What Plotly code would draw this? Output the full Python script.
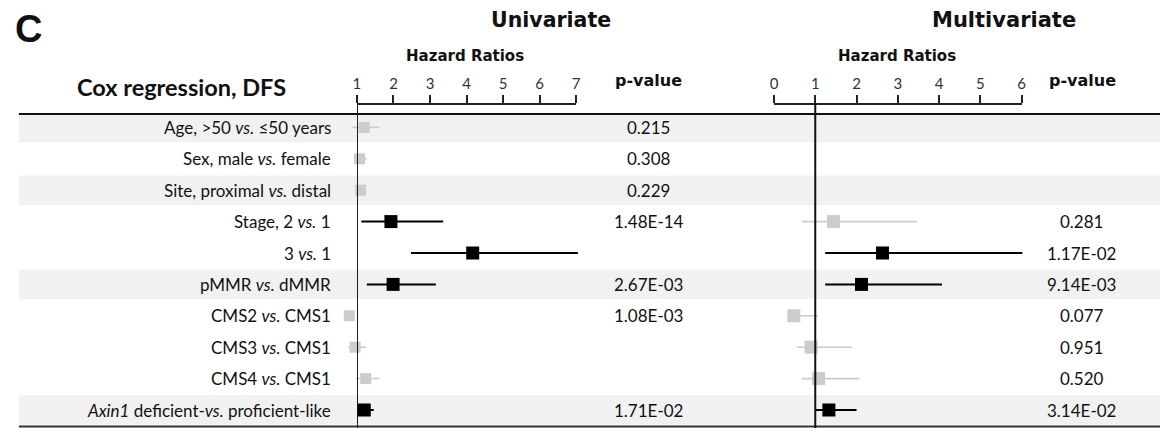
import plotly.graph_objects as go

W, H = 1165, 428

# ---------------- data ----------------
row_labels = [
    "Age, >50 <i>vs.</i> ≤50 years",
    "Sex, male <i>vs.</i> female",
    "Site, proximal <i>vs.</i> distal",
    "Stage, 2 <i>vs.</i> 1",
    "3 <i>vs.</i> 1",
    "pMMR <i>vs.</i> dMMR",
    "CMS2 <i>vs.</i> CMS1",
    "CMS3 <i>vs.</i> CMS1",
    "CMS4 <i>vs.</i> CMS1",
    "<i>Axin1</i> deficient-<i>vs.</i> proficient-like",
]
shaded_rows = [0, 2, 5, 9]

uni_hr = [1.20, 1.07, 1.10, 1.93, 4.17, 1.99, 0.79, 0.95, 1.24, 1.20]
uni_lo = [0.87, 0.92, 0.96, 1.12, 2.48, 1.27, 0.72, 0.76, 0.98, 1.00]
uni_hi = [1.61, 1.26, 1.25, 3.36, 7.05, 3.16, 0.86, 1.25, 1.61, 1.46]
uni_sig = [False, False, False, True, True, True, False, False, False, True]
uni_p = ["0.215", "0.308", "0.229", "1.48E-14", "", "2.67E-03", "1.08E-03", "", "", "1.71E-02"]

multi_hr = [None, None, None, 1.44, 2.63, 2.12, 0.48, 0.90, 1.08, 1.33]
multi_lo = [None, None, None, 0.68, 1.24, 1.24, 0.40, 0.56, 0.68, 1.00]
multi_hi = [None, None, None, 3.47, 6.02, 4.07, 1.06, 1.89, 2.07, 2.00]
multi_sig = [False, False, False, False, True, True, False, False, False, True]
multi_p = ["", "", "", "0.281", "1.17E-02", "9.14E-03", "0.077", "0.951", "0.520", "3.14E-02"]

uni_ticks = [1, 2, 3, 4, 5, 6, 7]
multi_ticks = [0, 1, 2, 3, 4, 5, 6]

# ---------------- geometry (pixels) ----------------
U_ONE, U_UNIT = 355.7, 36.8          # pixel of HR=1, px per unit (univariate)
M_ZERO, M_UNIT = 776.0, 41.58        # pixel of HR=0, px per unit (multivariate)
ROW0, ROWH = 127.4, 31.4             # first row centre, row pitch
AXIS_Y = 103.5                       # axis line pixel row

def uh(p):
    return 1 + (p - U_ONE) / U_UNIT

def mh(p):
    return (p - M_ZERO) / M_UNIT

def rowv(p):
    return (p - ROW0) / ROWH

def py(p):
    return 1 - p / H

FONT = "Lato"
HFONT = "DejaVu Sans"
BLACK = "#000000"
GREY = "#cccccc"

fig = go.Figure()

def add_forest(hr, lo, hi, sig, xa, size_b, size_g):
    for i in range(len(hr)):
        if hr[i] is None:
            continue
        col = BLACK if sig[i] else GREY
        fig.add_trace(go.Scatter(
            x=[hr[i]], y=[i], xaxis=xa, yaxis="y", mode="markers",
            marker=dict(symbol="square", size=size_b if sig[i] else size_g, color=col),
            error_x=dict(type="data", symmetric=False, array=[hi[i] - hr[i]],
                         arrayminus=[hr[i] - lo[i]], color=col,
                         thickness=2 if sig[i] else 1.6, width=0),
            showlegend=False, hoverinfo="skip", cliponaxis=False))

add_forest(uni_hr, uni_lo, uni_hi, uni_sig, "x", 13, 11)
add_forest(multi_hr, multi_lo, multi_hi, multi_sig, "x2", 13, 13)

# invisible traces to materialise the display axes
fig.add_trace(go.Scatter(x=[1], y=[0], xaxis="x3", yaxis="y", mode="markers",
                         marker=dict(opacity=0), showlegend=False, hoverinfo="skip"))
fig.add_trace(go.Scatter(x=[1], y=[0], xaxis="x4", yaxis="y", mode="markers",
                         marker=dict(opacity=0), showlegend=False, hoverinfo="skip"))

axis_common = dict(anchor="free", position=py(AXIS_Y), side="top", ticks="outside",
                   ticklen=8, tickwidth=1.5, tickcolor="#222", showline=True,
                   linecolor="#222", linewidth=1.5, showgrid=False, zeroline=False,
                   tickfont=dict(family=FONT, size=15, color="#333"), fixedrange=True)

fig.update_layout(
    width=W, height=H, margin=dict(l=0, r=0, t=0, b=0),
    paper_bgcolor="white", plot_bgcolor="rgba(0,0,0,0)",
    xaxis=dict(domain=[0, 1], range=[uh(0), uh(W)], visible=False, fixedrange=True),
    xaxis2=dict(domain=[0, 1], range=[mh(0), mh(W)], visible=False, overlaying="x",
                fixedrange=True),
    xaxis3=dict(domain=[(U_ONE + (uni_ticks[0] - 1) * U_UNIT) / W,
                        (U_ONE + (uni_ticks[-1] - 1) * U_UNIT) / W],
                range=[uni_ticks[0], uni_ticks[-1]], tickvals=uni_ticks, **axis_common),
    xaxis4=dict(domain=[(M_ZERO + multi_ticks[0] * M_UNIT) / W,
                        (M_ZERO + multi_ticks[-1] * M_UNIT) / W],
                range=[multi_ticks[0], multi_ticks[-1]], tickvals=multi_ticks, **axis_common),
    yaxis=dict(domain=[0, 1], range=[rowv(H), rowv(0)], visible=False, fixedrange=True),
    showlegend=False,
)

shapes = []
for r in shaded_rows:
    shapes.append(dict(type="rect", xref="paper", yref="y", x0=15 / W, x1=1,
                       y0=r - 0.47, y1=r + 0.47, fillcolor="#f1f1f1",
                       line=dict(width=0), layer="below"))
# header rule and bottom rule
shapes.append(dict(type="line", xref="paper", yref="paper", x0=15 / W, x1=1,
                   y0=py(114), y1=py(114), line=dict(color="#111", width=2)))
shapes.append(dict(type="line", xref="paper", yref="paper", x0=15 / W, x1=1,
                   y0=py(426.5), y1=py(426.5), line=dict(color="#333", width=2)))
# reference lines at HR = 1
shapes.append(dict(type="line", xref="x3", yref="paper", x0=1, x1=1,
                   y0=0, y1=py(AXIS_Y), line=dict(color="#111", width=2)))
shapes.append(dict(type="line", xref="x4", yref="paper", x0=1, x1=1,
                   y0=0, y1=py(AXIS_Y), line=dict(color="#111", width=2)))
fig.update_layout(shapes=shapes)

ann = []
def A(text, x, y, size, bold=False, xanchor="center", family=FONT, yref="paper"):
    t = f"<b>{text}</b>" if bold else text
    ann.append(dict(text=t, x=x, y=y, xref="paper", yref=yref, xanchor=xanchor,
                    yanchor="middle", showarrow=False,
                    font=dict(family=family, size=size, color="#111")))

A("C", 9 / W, py(29), 38, True, "left", "Liberation Sans")
A("Univariate", 551 / W, py(20), 20.5, True, "center", HFONT)
A("Multivariate", 1008 / W, py(20), 21, True, "center", HFONT)
A("Cox regression, DFS", 179 / W, py(87), 23.5, True)
A("Hazard Ratios", 465 / W, py(56), 15, True, "center", HFONT)
A("Hazard Ratios", 900 / W, py(56), 15, True, "center", HFONT)
A("p-value", 650 / W, py(81), 16, True, "center", HFONT)
A("p-value", 1087 / W, py(80), 16, True, "center", HFONT)

for i, lab in enumerate(row_labels):
    A(lab, 332 / W, i, 17, False, "right", FONT, "y")
    if uni_p[i]:
        A(uni_p[i], 650 / W, i, 17, False, "center", FONT, "y")
    if multi_p[i]:
        A(multi_p[i], 1086 / W, i, 17, False, "center", FONT, "y")

fig.update_layout(annotations=ann)
fig.write_html("out.html", config={"displayModeBar": False},
               post_script="document.body.style.margin='0';document.body.style.overflow='hidden';")
